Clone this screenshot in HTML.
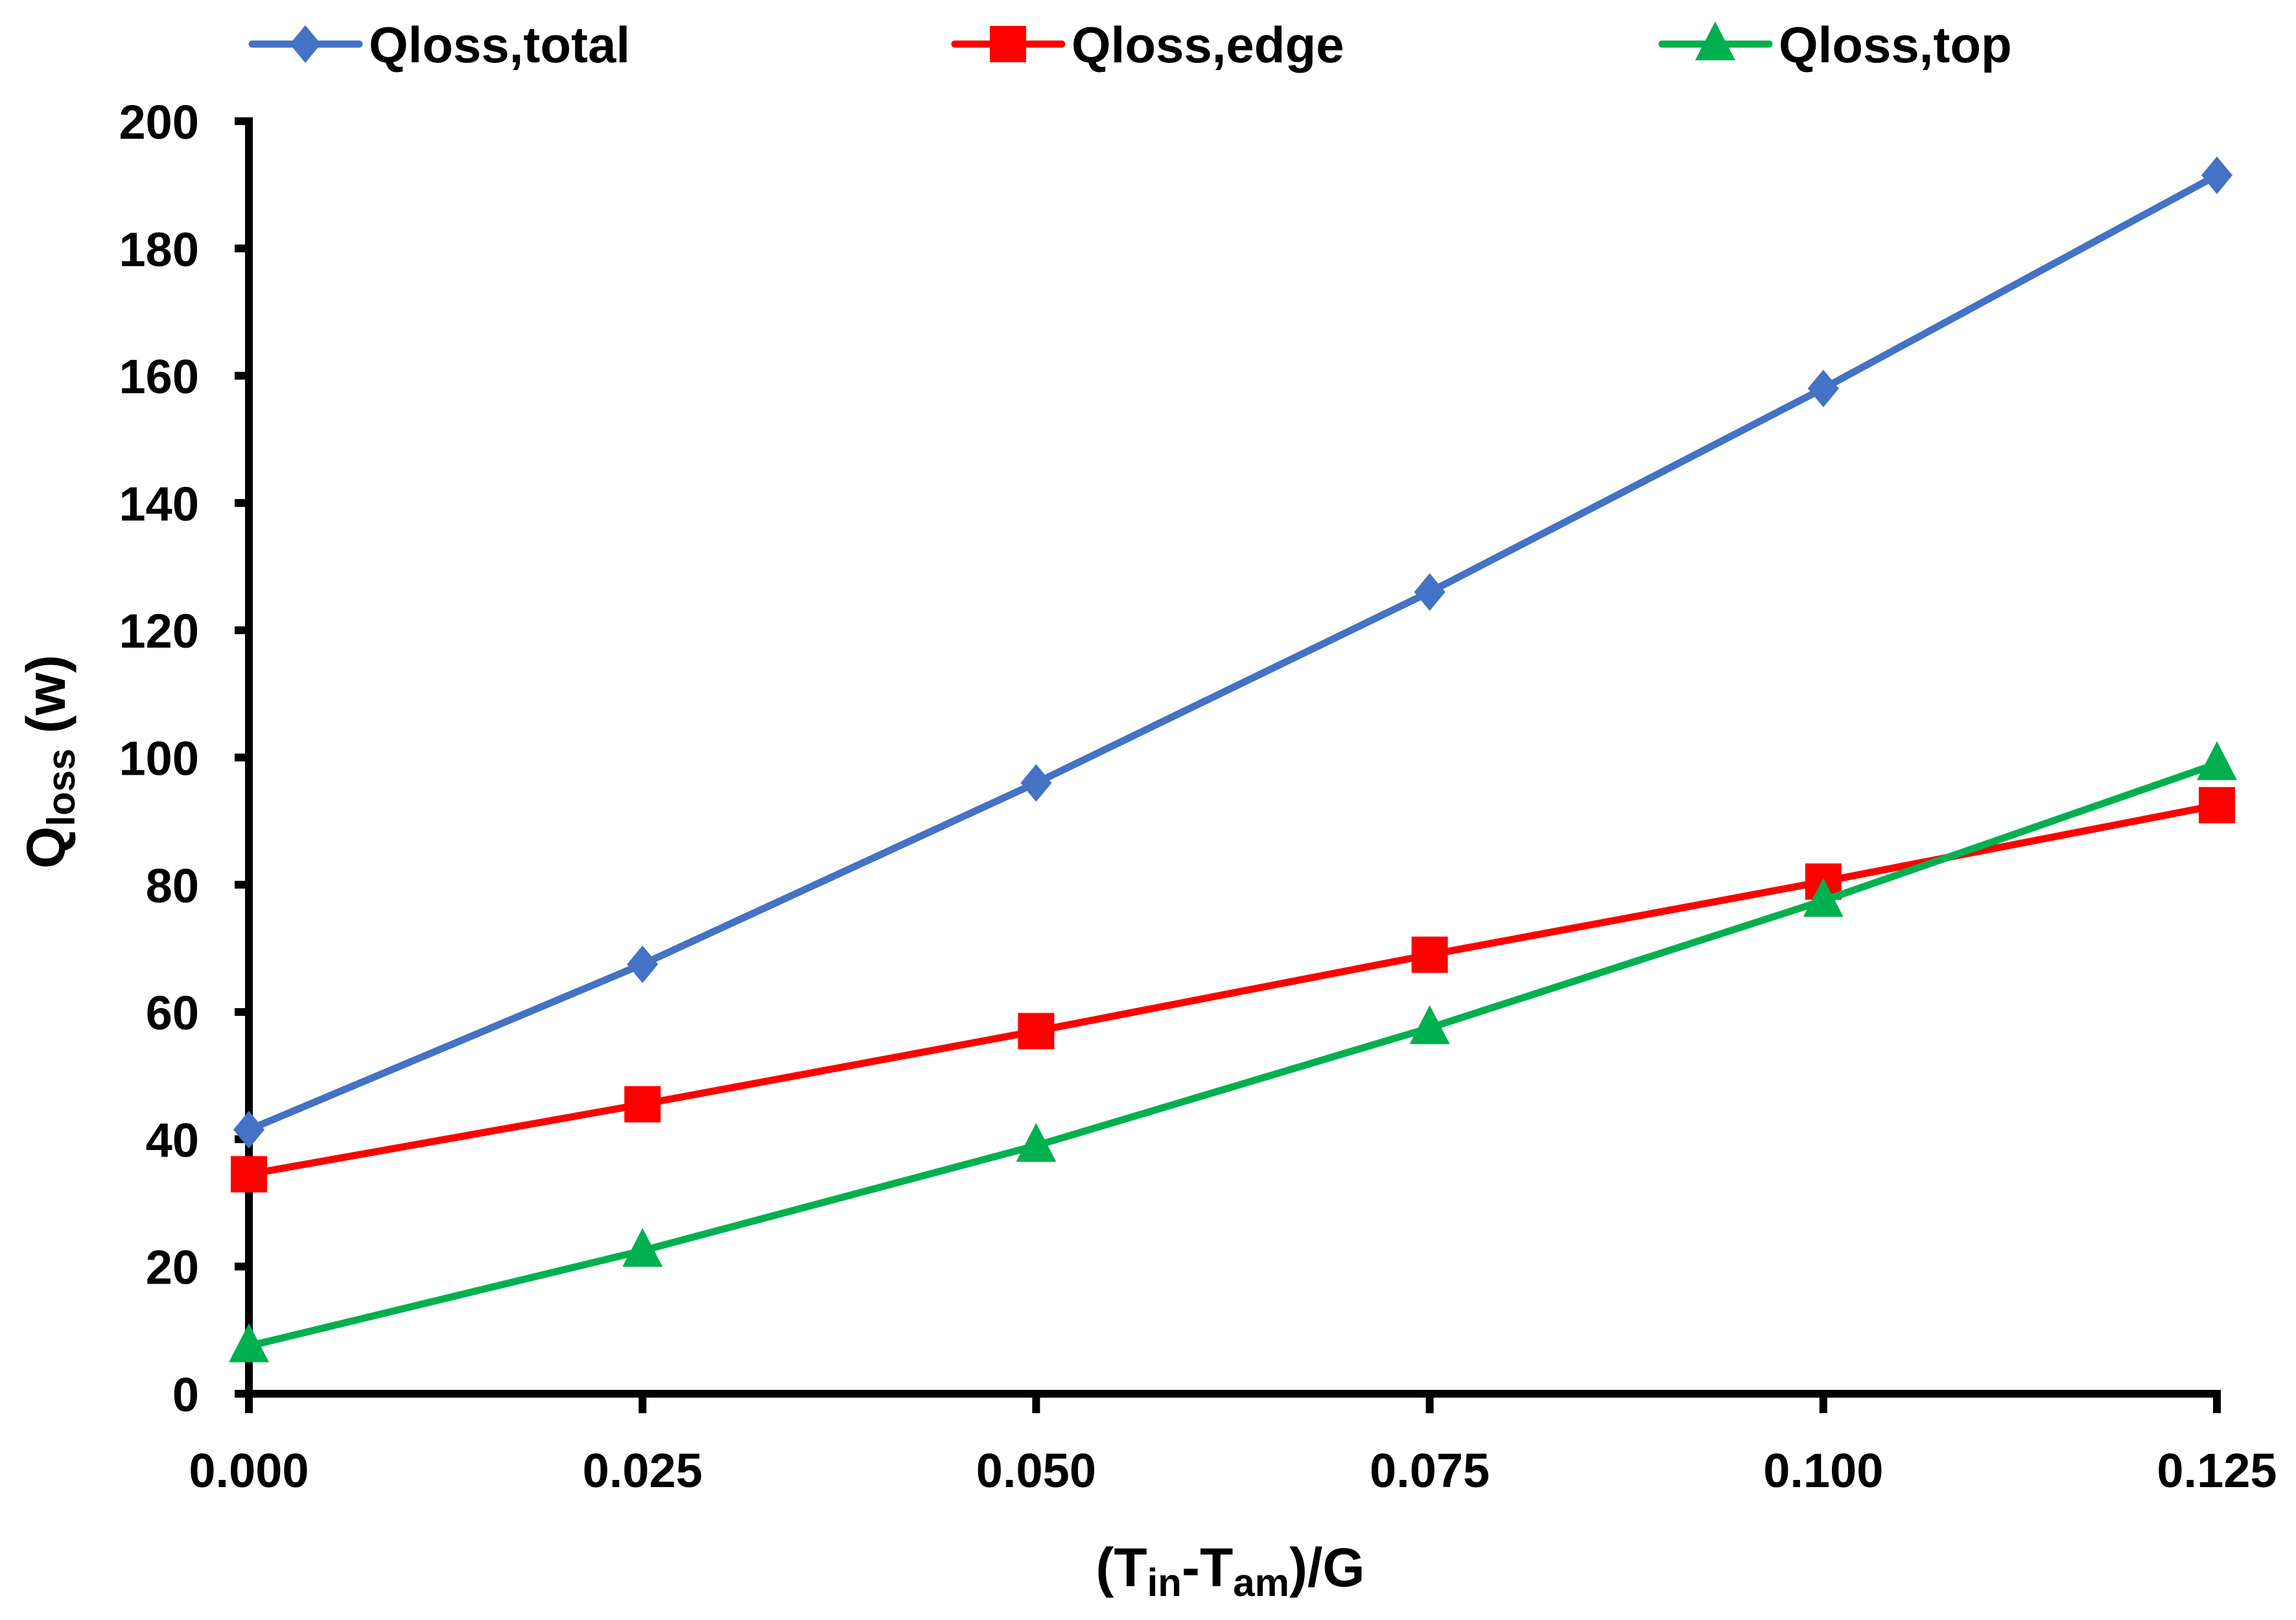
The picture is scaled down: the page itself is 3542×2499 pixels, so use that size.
<!DOCTYPE html>
<html><head><meta charset="utf-8"><style>
html,body{margin:0;padding:0;background:#fff;}
svg{display:block;font-family:"Liberation Sans",sans-serif;font-weight:bold;}
</style></head><body>
<svg id="chart" width="3542" height="2499" viewBox="0 0 3542 2499" xmlns="http://www.w3.org/2000/svg">
<g id="grid"></g>
<g id="series"></g>
<g id="legend"></g>
<text x="1898" y="2447" font-size="84" text-anchor="middle">(T<tspan font-size="60" dy="15">in</tspan><tspan dy="-15">-T</tspan><tspan font-size="60" dy="15">am</tspan><tspan dy="-15">)/G</tspan></text>
<text transform="translate(100,1175) rotate(-90)" font-size="84" text-anchor="middle">Q<tspan font-size="60" dy="15">loss</tspan><tspan dy="-15"> (w)</tspan></text>
</svg>
<script>
const categories = [0, 0.025, 0.05, 0.075, 0.1, 0.125];
const xTickLabels = ["0.000","0.025","0.050","0.075","0.100","0.125"];
const yTicks = [0,20,40,60,80,100,120,140,160,180,200];
const totalValues = [41.5, 67.5, 96, 126, 158, 191.5];
const edgeValues = [34.5, 45.5, 57, 69, 80.5, 92.5];
const topValues = [7.5, 22.5, 39, 57.5, 77.5, 99];

const NS = "http://www.w3.org/2000/svg";
const X0 = 384, X1 = 3420, Y0 = 2150, Y1 = 187;
function xs(v){ return X0 + (v - 0) / 0.125 * (X1 - X0); }
function ys(v){ return Y0 - v / 200 * (Y0 - Y1); }
function mk(tag, attrs, parent){ const e = document.createElementNS(NS, tag); for (const k in attrs) e.setAttribute(k, attrs[k]); parent.appendChild(e); return e; }

const grid = document.getElementById('grid');
let a = mk('line', {x1:X0, y1:Y0, x2:X0, y2:Y1-6, stroke:'#000','stroke-width':12}, grid);


a = mk('line', {x1:X0-22, y1:Y0, x2:X1+6, y2:Y0, stroke:'#000','stroke-width':12}, grid);


yTicks.forEach(v => {
  const t = mk('line', {x1:X0-22, y1:ys(v), x2:X0, y2:ys(v), stroke:'#000','stroke-width':12}, grid);
  
  
  const l = mk('text', {x:307, y:ys(v)+27, 'font-size':74, 'text-anchor':'end'}, grid);
  l.textContent = v;
  
  
});
categories.forEach((c,i) => {
  const t = mk('line', {x1:xs(c), y1:Y0, x2:xs(c), y2:Y0+30, stroke:'#000','stroke-width':12}, grid);
  
  
  const l = mk('text', {x:xs(c), y:2294, 'font-size':74, 'text-anchor':'middle'}, grid);
  l.textContent = xTickLabels[i];
  
  
});

function marker(type, cx, cy, color, parent){
  let e;
  if (type === 'diamond') e = mk('polygon', {points:`${cx},${cy-29} ${cx+24},${cy} ${cx},${cy+29} ${cx-24},${cy}`, fill:color}, parent);
  else if (type === 'square') e = mk('rect', {x:cx-28, y:cy-28, width:56, height:56, fill:color}, parent);
  else e = mk('polygon', {points:`${cx},${cy-35} ${cx+31},${cy+25} ${cx-31},${cy+25}`, fill:color}, parent);
  return e;
}
const seriesDefs = [
  {name:'total', vals:totalValues, color:'#4472C4', m:'diamond', label:'Qloss,total', lx:389},
  {name:'edge', vals:edgeValues, color:'#FF0000', m:'square', label:'Qloss,edge', lx:1473},
  {name:'top', vals:topValues, color:'#00B050', m:'triangle', label:'Qloss,top', lx:2564}
];
const sg = document.getElementById('series');
const lg = document.getElementById('legend');
seriesDefs.forEach(s => {
  const g = mk('g', {}, sg);
  
  
  const pts = categories.map((c,i) => xs(c) + ',' + ys(s.vals[i])).join(' ');
  const pl = mk('polyline', {points:pts, fill:'none', stroke:s.color, 'stroke-width':11, 'stroke-linejoin':'round'}, g);
  
  
  categories.forEach((c,i) => {
    const m = marker(s.m, xs(c), ys(s.vals[i]), s.color, g);
    
    
  });
  const le = mk('g', {}, lg);
  
  
  mk('line', {x1:s.lx, y1:68, x2:s.lx+165, y2:68, stroke:s.color, 'stroke-width':11, 'stroke-linecap':'round'}, le);
  marker(s.m, s.lx+82, 68, s.color, le);
  const t = mk('text', {x:s.lx+180, y:96, 'font-size':78}, le);
  t.textContent = s.label;
});
</script>
</body></html>
